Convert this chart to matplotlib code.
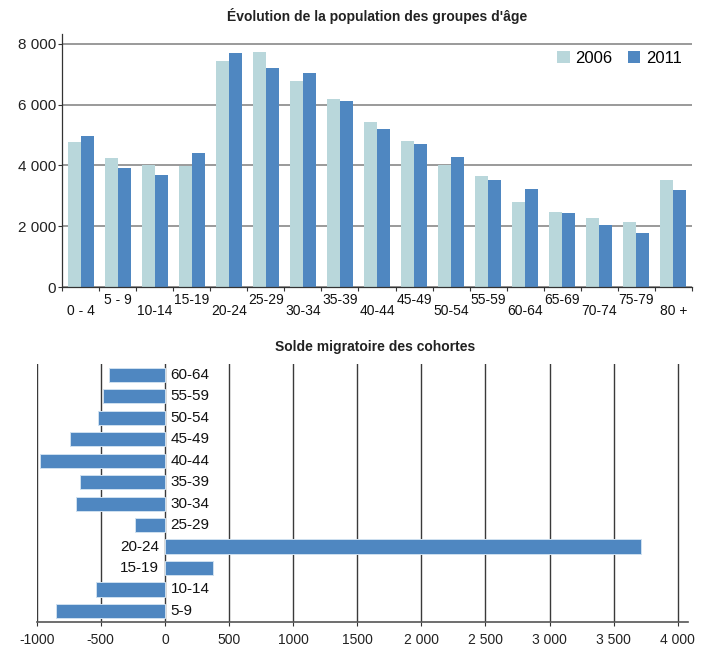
import matplotlib
matplotlib.use('Agg')
import matplotlib.pyplot as plt
from matplotlib import font_manager
import numpy as np

# data
ages = ["0 - 4", "5 - 9", "10-14", "15-19", "20-24", "25-29", "30-34", "35-39",
        "40-44", "45-49", "50-54", "55-59", "60-64", "65-69", "70-74", "75-79", "80 +"]
pop_2006 = [4770, 4250, 4020, 3990, 7450, 7750, 6790, 6180, 5440, 4810,
            4000, 3660, 2810, 2480, 2260, 2130, 3510]
pop_2011 = [4975, 3910, 3700, 4420, 7690, 7210, 7050, 6130, 5190, 4700,
            4280, 3510, 3210, 2440, 2040, 1790, 3190]

cohortes = ["5-9", "10-14", "15-19", "20-24", "25-29", "30-34",
            "35-39", "40-44", "45-49", "50-54", "55-59", "60-64"]
solde = [-850, -541, 378, 3715, -235, -697, -659, -974, -739, -523, -484, -438]

solde_ticks = [-1000, -500, 0, 500, 1000, 1500, 2000, 2500, 3000, 3500, 4000]
solde_labels = ["-1000", "-500", "0", "500", "1000", "1500",
                "2 000", "2 500", "3 000", "3 500", "4 000"]
pop_ticks = [0, 2000, 4000, 6000, 8000]
pop_labels = ["0", "2 000", "4 000", "6 000", "8 000"]

LIGHT = '#b9d7db'
DARK = '#4f87c1'
INK = '#333333'

names = {f.name for f in font_manager.fontManager.ttflist}
title_font = 'Liberation Sans Narrow' if 'Liberation Sans Narrow' in names else 'Liberation Sans'
plt.rcParams['font.family'] = ['Liberation Sans', 'DejaVu Sans']

fig = plt.figure(figsize=(7.04, 6.48), dpi=100)

# ---- top chart: population by age group
ax1 = fig.add_axes([62/704, 1-287/648, 630/704, 253/648])
x = np.arange(len(ages))
w = 0.35
ax1.bar(x - w/2, pop_2006, w, color=LIGHT, label='2006')
ax1.bar(x + w/2, pop_2011, w, color=DARK, label='2011')
ax1.set_xlim(-0.5, len(ages) - 0.5)
ax1.set_ylim(0, 8329)
ax1.set_yticks(pop_ticks)
ax1.set_yticklabels(pop_labels, fontsize=11, color='#222222')
ax1.tick_params(axis='y', length=3, width=0.8, pad=1.5, color=INK)
ax1.yaxis.grid(True, color='#7f7f7f', linewidth=1.1)
ax1.set_axisbelow(True)
for s in ['top', 'right']:
    ax1.spines[s].set_visible(False)
for s in ['left', 'bottom']:
    ax1.spines[s].set_color(INK)
    ax1.spines[s].set_linewidth(0.9)

ax1.set_xticks(x)
ax1.set_xticklabels(ages, fontsize=10, color='#111111')
ax1.tick_params(axis='x', which='major', length=0)
for i, t in enumerate(ax1.xaxis.get_major_ticks()):
    t.set_pad(4 if i % 2 == 1 else 12.5)
ax1.set_xticks(np.arange(len(ages) + 1) - 0.5, minor=True)
ax1.tick_params(axis='x', which='minor', length=3, width=0.8, color=INK)

ax1.legend(loc='center right', bbox_to_anchor=(0.997, 0.905), ncol=2, frameon=False,
           fontsize=12, handlelength=0.75, handleheight=0.75, handletextpad=0.35,
           columnspacing=0.9, borderpad=0)

fig.text(377/704, 1-16/648, "Évolution de la population des groupes d'âge",
         ha='center', va='center', fontsize=10, fontweight='bold',
         family=[title_font, 'DejaVu Sans'], color='#222222')

# ---- bottom chart: migration balance by cohort
ax2 = fig.add_axes([36.7/704, 1-621.7/648, 651/704, 257.7/648])
y = np.arange(len(cohortes))
ax2.barh(y, solde, 0.66, color=DARK, edgecolor='#cfe0f0', linewidth=0.7)
ax2.set_xlim(-1000, 4078)
ax2.set_ylim(-0.5, len(cohortes) - 0.5)
ax2.set_yticks([])
ax2.set_xticks(solde_ticks)
ax2.set_xticklabels(solde_labels, fontsize=10, color='#222222')
ax2.tick_params(axis='x', length=3, width=0.8, pad=5, color=INK)
ax2.xaxis.grid(True, color='#3a3a3a', linewidth=1)
ax2.set_axisbelow(True)
for s in ['top', 'right', 'left']:
    ax2.spines[s].set_visible(False)
ax2.spines['bottom'].set_color('#555555')
ax2.spines['bottom'].set_linewidth(1.2)

for yi, (lab, v) in enumerate(zip(cohortes, solde)):
    if v < 0:
        ax2.annotate(lab, (0, yi), xytext=(4.2, 0), textcoords='offset points',
                     ha='left', va='center', fontsize=11, color='#111111')
    else:
        ax2.annotate(lab, (0, yi), xytext=(-4.2, 0), textcoords='offset points',
                     ha='right', va='center', fontsize=11, color='#111111')

fig.text(375/704, 1-347/648, "Solde migratoire des cohortes",
         ha='center', va='center', fontsize=10, fontweight='bold',
         family=[title_font, 'DejaVu Sans'], color='#222222')

fig.savefig('out.png', dpi=100)
